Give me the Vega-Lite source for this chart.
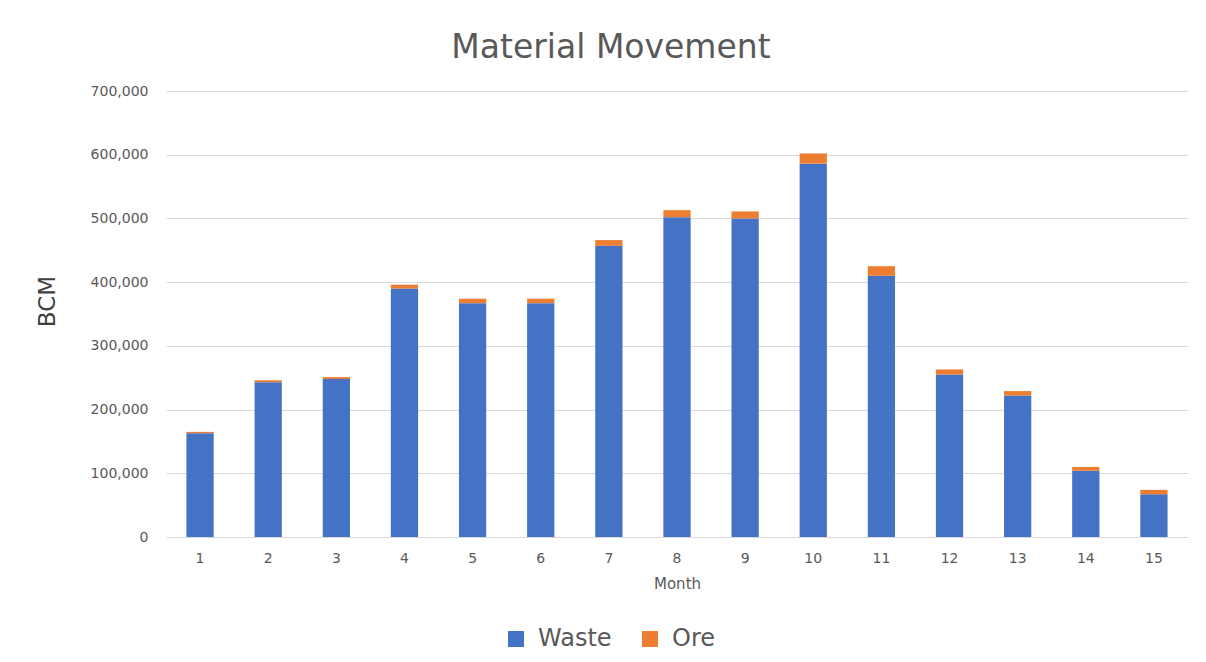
{
  "$schema": "https://vega.github.io/schema/vega-lite/v6.json",
  "autosize": {"type": "none"},
  "width": 1022,
  "height": 446,
  "padding": {"left": 166, "top": 91, "right": 18, "bottom": 125},
  "background": "white",
  "title": {
    "text": "Material Movement",
    "font": "DejaVu Sans",
    "fontSize": 33,
    "fontWeight": "normal",
    "color": "#595959",
    "anchor": "middle",
    "frame": "group",
    "dx": -66,
    "baseline": "alphabetic",
    "offset": -7
  },
  "data": {
    "values": [
      {"month": 1, "type": "Waste", "bcm": 163000},
      {"month": 1, "type": "Ore", "bcm": 2000},
      {"month": 2, "type": "Waste", "bcm": 243000},
      {"month": 2, "type": "Ore", "bcm": 3000},
      {"month": 3, "type": "Waste", "bcm": 248000},
      {"month": 3, "type": "Ore", "bcm": 3000},
      {"month": 4, "type": "Waste", "bcm": 390000},
      {"month": 4, "type": "Ore", "bcm": 6000},
      {"month": 5, "type": "Waste", "bcm": 367000},
      {"month": 5, "type": "Ore", "bcm": 7000},
      {"month": 6, "type": "Waste", "bcm": 367000},
      {"month": 6, "type": "Ore", "bcm": 7000},
      {"month": 7, "type": "Waste", "bcm": 457000},
      {"month": 7, "type": "Ore", "bcm": 9000},
      {"month": 8, "type": "Waste", "bcm": 502000},
      {"month": 8, "type": "Ore", "bcm": 11000},
      {"month": 9, "type": "Waste", "bcm": 500000},
      {"month": 9, "type": "Ore", "bcm": 11000},
      {"month": 10, "type": "Waste", "bcm": 586000},
      {"month": 10, "type": "Ore", "bcm": 16000},
      {"month": 11, "type": "Waste", "bcm": 410000},
      {"month": 11, "type": "Ore", "bcm": 15000},
      {"month": 12, "type": "Waste", "bcm": 255000},
      {"month": 12, "type": "Ore", "bcm": 8000},
      {"month": 13, "type": "Waste", "bcm": 222000},
      {"month": 13, "type": "Ore", "bcm": 7000},
      {"month": 14, "type": "Waste", "bcm": 104000},
      {"month": 14, "type": "Ore", "bcm": 6000},
      {"month": 15, "type": "Waste", "bcm": 67000},
      {"month": 15, "type": "Ore", "bcm": 7000}
    ]
  },
  "mark": {"type": "bar"},
  "encoding": {
    "x": {
      "field": "month",
      "type": "ordinal",
      "scale": {"paddingInner": 0.6, "paddingOuter": 0.3},
      "axis": {
        "title": "Month",
        "labelAngle": 0,
        "labelFont": "DejaVu Sans",
        "labelFontSize": 14,
        "labelColor": "#595959",
        "labelPadding": 14,
        "ticks": false,
        "domain": true,
        "domainColor": "#d9d9d9",
        "domainWidth": 1,
        "titleFont": "DejaVu Sans",
        "titleFontSize": 15,
        "titleFontWeight": "normal",
        "titleColor": "#595959",
        "titleBaseline": "alphabetic",
        "titleY": 51
      }
    },
    "y": {
      "field": "bcm",
      "type": "quantitative",
      "stack": "zero",
      "scale": {"domain": [0, 700000], "nice": false},
      "axis": {
        "title": "BCM",
        "values": [0, 100000, 200000, 300000, 400000, 500000, 600000, 700000],
        "format": ",.0f",
        "labelFont": "DejaVu Sans",
        "labelFontSize": 14,
        "labelColor": "#595959",
        "labelPadding": 18,
        "ticks": false,
        "domain": false,
        "grid": true,
        "gridColor": "#d9d9d9",
        "gridWidth": 1,
        "titleFont": "DejaVu Sans",
        "titleFontSize": 23,
        "titleFontWeight": "normal",
        "titleColor": "#404040",
        "titleAngle": -90,
        "titleBaseline": "alphabetic",
        "titleAlign": "center",
        "titleX": -112,
        "titleY": 210
      }
    },
    "color": {
      "field": "type",
      "type": "nominal",
      "scale": {"domain": ["Waste", "Ore"], "range": ["#4472C4", "#ED7D31"]},
      "legend": {
        "title": null,
        "orient": "none",
        "direction": "horizontal",
        "legendX": 338,
        "legendY": 536,
        "symbolType": "square",
        "symbolSize": 256,
        "symbolStrokeWidth": 0,
        "labelFont": "DejaVu Sans",
        "labelFontSize": 24,
        "labelColor": "#595959",
        "labelOffset": 10,
        "columnPadding": 26
      }
    },
    "order": {"field": "type", "sort": "descending"}
  },
  "config": {
    "view": {"stroke": null}
  }
}
